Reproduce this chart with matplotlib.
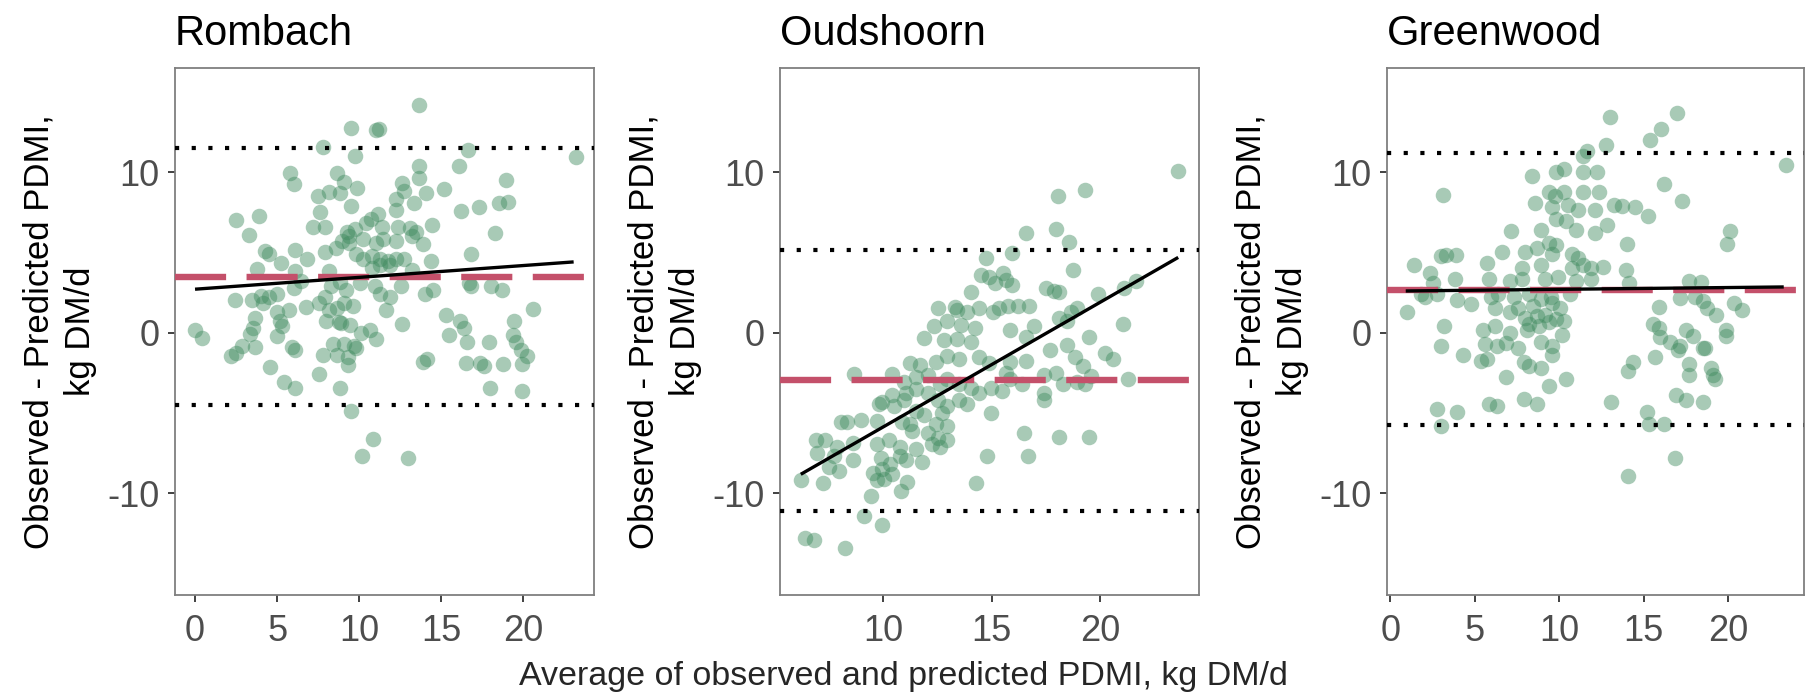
import matplotlib
matplotlib.use("Agg")
import matplotlib.pyplot as plt
import numpy as np

plt.rcParams['font.family'] = ['Liberation Sans', 'DejaVu Sans']

# ---------------- data ----------------
panel_names = ["Rombach", "Oudshoorn", "Greenwood"]

rombach_pts = [
    (13.62, 14.2), (9.53, 12.76), (11.02, 12.59), (11.2, 12.68), (7.80, 11.56), (9.72, 11.0),
    (16.63, 11.36), (23.18, 10.95), (16.08, 10.36), (13.62, 10.36), (5.80, 9.94), (6.02, 9.28),
    (13.62, 9.61), (18.97, 9.53), (8.64, 9.94), (9.05, 9.39), (9.89, 9.0), (15.14, 8.97),
    (12.59, 9.33), (12.71, 8.83), (14.04, 8.72), (7.46, 8.50), (8.18, 8.77), (8.81, 8.72),
    (19.09, 8.16), (18.53, 8.08), (9.51, 7.88), (12.25, 8.33), (13.31, 8.08), (16.20, 7.58),
    (17.28, 7.80), (12.25, 7.66), (7.60, 7.52), (2.48, 6.99), (3.92, 7.24), (3.27, 6.07),
    (10.73, 7.10), (11.14, 7.38), (10.42, 6.82), (7.17, 6.60), (7.94, 6.60), (9.24, 6.27),
    (9.75, 6.43), (11.38, 6.60), (12.37, 6.60), (13.09, 6.49), (13.43, 6.27), (14.42, 6.69),
    (18.29, 6.21), (8.93, 5.71), (9.37, 5.57), (9.36, 5.99), (10.25, 5.85), (11.02, 5.57),
    (11.46, 5.85), (12.23, 5.71), (13.24, 5.99), (13.91, 5.52), (4.24, 5.07), (4.52, 4.87),
    (5.25, 4.32), (6.09, 5.15), (6.81, 4.60), (7.89, 5.01), (8.57, 5.29), (9.82, 4.87),
    (10.23, 4.60), (10.78, 4.74), (11.26, 4.60), (11.74, 4.46), (12.23, 4.60), (12.71, 4.60),
    (16.80, 4.87), (14.39, 4.46), (3.80, 3.98), (6.09, 3.84), (10.78, 4.04), (11.26, 4.18),
    (11.87, 4.18), (8.13, 3.84), (13.19, 3.90), (6.00, 2.79), (6.45, 3.20), (8.26, 2.92),
    (8.81, 3.15), (9.22, 2.65), (10.06, 3.06), (10.97, 2.92), (11.26, 2.37), (11.87, 2.23),
    (12.56, 2.87), (14.03, 2.42), (14.51, 2.65), (16.68, 3.06), (16.80, 2.92), (18.00, 2.92),
    (18.68, 2.65), (2.41, 2.01), (3.44, 2.03), (4.04, 2.28), (4.52, 2.23), (5.01, 2.37),
    (6.76, 1.59), (7.53, 1.81), (7.89, 2.23), (8.13, 1.39), (8.62, 1.53), (9.10, 1.87),
    (9.63, 1.67), (11.62, 1.39), (20.58, 1.48), (4.16, 1.81), (5.01, 1.25), (5.73, 1.39),
    (3.63, 0.92), (5.17, 0.70), (5.29, 0.42), (3.51, 0.28), (3.32, -0.08), (7.97, 0.70),
    (8.74, 0.64), (8.91, 0.61), (9.46, 0.47), (10.11, 0.0), (10.66, 0.14), (11.02, -0.42),
    (12.61, 0.53), (15.31, 1.09), (16.13, 0.70), (16.37, 0.28), (16.56, -0.56), (15.46, -0.14),
    (19.45, 0.70), (19.37, -0.14), (19.56, -0.56), (17.93, -0.58), (0.0, 0.14), (0.43, -0.33),
    (5.01, -0.19), (2.19, -1.45), (2.48, -1.25), (2.89, -0.84), (3.68, -0.92), (5.92, -0.92),
    (6.09, -1.11), (8.38, -0.70), (9.10, -0.70), (9.70, -0.84), (9.82, -0.97), (7.77, -1.39),
    (8.62, -1.39), (9.29, -1.53), (13.86, -1.81), (14.15, -1.67), (16.49, -1.87), (17.33, -1.87),
    (17.63, -2.09), (18.77, -1.95), (19.93, -1.95), (20.24, -1.48), (19.83, -1.06), (4.57, -2.14),
    (9.34, -2.03), (7.53, -2.59), (5.42, -3.06), (6.09, -3.48), (8.86, -3.48), (17.95, -3.48),
    (19.93, -3.62), (9.53, -4.87), (10.83, -6.63), (10.18, -7.66), (12.95, -7.80),
]

oudshoorn_pts = [
    (23.61, 10.08), (19.31, 8.86), (18.04, 8.50), (17.99, 6.46), (16.59, 6.21), (18.58, 5.65),
    (15.95, 4.93), (14.74, 4.65), (18.77, 3.90), (14.50, 3.57), (14.86, 3.48), (15.54, 3.70),
    (15.65, 3.26), (15.14, 3.06), (15.92, 2.98), (17.50, 2.79), (17.86, 2.59), (18.13, 2.51),
    (21.67, 3.20), (21.13, 2.79), (14.05, 2.51), (12.50, 1.53), (13.32, 1.59), (13.41, 1.39),
    (13.87, 1.25), (14.41, 1.53), (15.05, 1.25), (15.32, 1.53), (15.77, 1.67), (16.23, 1.67),
    (16.73, 1.67), (18.95, 1.53), (18.68, 1.25), (19.89, 2.37), (18.13, 0.89), (18.49, 0.70),
    (21.04, 0.56), (12.32, 0.42), (12.96, 0.70), (13.59, 0.47), (14.23, 0.28), (15.86, 0.14),
    (16.95, 0.42), (11.87, -0.36), (12.81, -0.47), (13.41, -0.42), (14.05, -0.56), (16.59, -0.28),
    (19.49, -0.28), (18.49, -0.75), (17.68, -1.11), (20.22, -1.25), (20.58, -1.67), (18.86, -1.53),
    (11.23, -1.87), (11.69, -2.03), (12.41, -1.81), (12.96, -1.48), (13.50, -1.67), (14.41, -1.53),
    (14.86, -1.87), (15.86, -1.81), (16.59, -1.76), (19.22, -2.09), (15.68, -2.51), (15.86, -2.92),
    (16.41, -3.20), (17.41, -2.65), (17.95, -2.51), (18.31, -3.20), (18.95, -3.06), (19.31, -3.20),
    (19.58, -2.70), (21.27, -2.87), (8.66, -2.59), (10.42, -2.59), (10.96, -3.06), (11.51, -2.79),
    (12.05, -2.65), (12.60, -3.20), (12.96, -2.87), (13.50, -3.20), (14.05, -3.48), (14.41, -3.76),
    (14.95, -3.48), (15.50, -3.62), (17.41, -3.76), (17.41, -4.18), (11.05, -3.76), (11.51, -3.54),
    (10.42, -3.90), (10.96, -4.18), (12.05, -3.76), (12.50, -4.18), (13.50, -4.18), (13.87, -4.46),
    (12.96, -4.60), (9.78, -4.46), (9.96, -4.32), (10.51, -4.60), (11.51, -4.87), (11.87, -5.15),
    (12.69, -5.01), (14.95, -5.01), (8.06, -5.57), (8.33, -5.57), (8.97, -5.43), (9.69, -5.49),
    (10.87, -5.57), (11.23, -5.71), (12.41, -5.71), (12.96, -5.85), (11.32, -6.13), (12.05, -6.27),
    (12.50, -6.55), (12.96, -6.69), (16.50, -6.27), (18.13, -6.49), (19.49, -6.49), (6.88, -6.69),
    (7.33, -6.69), (7.88, -7.10), (8.60, -6.88), (9.69, -6.96), (10.24, -6.69), (10.78, -7.10),
    (11.51, -7.24), (12.23, -6.96), (12.60, -7.10), (6.93, -7.52), (7.70, -7.66), (8.60, -7.94),
    (9.91, -7.80), (10.33, -8.22), (10.78, -7.66), (11.05, -7.94), (11.78, -8.08), (14.77, -7.66),
    (16.68, -7.66), (7.51, -8.36), (7.97, -8.64), (9.51, -8.72), (9.96, -8.50), (10.42, -8.83),
    (9.69, -9.19), (10.05, -9.11), (11.11, -9.33), (6.21, -9.19), (7.21, -9.39), (14.26, -9.39),
    (10.83, -9.89), (9.42, -10.17), (9.11, -11.42), (9.96, -11.98), (6.37, -12.81), (6.79, -12.95),
    (8.24, -13.45),
]

greenwood_pts = [
    (16.98, 13.70), (13.03, 13.43), (16.05, 12.67), (15.36, 11.98), (12.80, 11.70), (11.66, 11.28),
    (11.43, 11.0), (23.43, 10.45), (10.29, 10.17), (9.83, 10.03), (11.38, 10.03), (12.23, 10.03),
    (8.39, 9.75), (16.18, 9.28), (3.13, 8.58), (9.37, 8.77), (9.78, 8.50), (10.29, 8.77),
    (11.43, 8.77), (12.34, 8.77), (17.26, 8.22), (8.57, 8.08), (9.60, 7.80), (10.51, 7.94),
    (11.09, 7.66), (12.11, 7.66), (13.26, 7.94), (13.71, 7.88), (14.51, 7.80), (15.27, 7.24),
    (9.83, 7.10), (10.40, 6.96), (12.85, 6.69), (8.91, 6.41), (7.15, 6.32), (12.11, 6.21),
    (10.97, 6.41), (20.11, 6.32), (19.93, 5.49), (13.99, 5.49), (9.37, 5.57), (9.83, 5.43),
    (8.69, 5.29), (6.63, 5.01), (8.0, 5.01), (9.60, 4.87), (10.74, 4.87), (11.09, 4.65),
    (3.02, 4.74), (3.31, 4.82), (3.89, 4.82), (1.37, 4.18), (2.35, 3.70), (2.51, 3.06),
    (1.83, 2.37), (0.98, 1.31), (5.71, 4.32), (7.77, 4.04), (8.91, 4.18), (10.74, 4.04),
    (11.43, 4.18), (11.89, 4.04), (12.57, 4.10), (13.94, 3.90), (14.11, 3.06), (3.84, 3.34),
    (5.83, 3.34), (7.09, 3.20), (7.77, 3.34), (9.14, 3.34), (9.94, 3.48), (11.0, 3.20),
    (11.89, 3.34), (17.71, 3.20), (18.40, 3.15), (2.06, 2.23), (2.74, 2.37), (3.95, 2.03),
    (4.80, 1.75), (5.94, 2.23), (6.40, 2.37), (7.31, 2.23), (8.23, 2.37), (8.91, 2.09),
    (9.49, 2.23), (10.63, 2.37), (17.14, 2.14), (18.06, 2.23), (18.51, 1.95), (20.34, 1.87),
    (20.80, 1.39), (15.89, 1.59), (18.74, 1.53), (6.17, 1.53), (7.54, 1.53), (8.46, 1.67),
    (9.60, 1.81), (10.06, 1.53), (19.31, 1.11), (7.09, 1.25), (8.0, 0.92), (8.69, 1.03),
    (9.14, 1.11), (9.83, 0.84), (10.29, 0.75), (8.23, 0.56), (8.80, 0.42), (9.37, 0.64),
    (15.54, 0.56), (15.89, 0.28), (17.49, 0.14), (19.89, 0.14), (19.89, -0.19), (3.15, 0.42),
    (5.49, 0.14), (6.17, 0.42), (7.09, 0.0), (8.11, 0.14), (10.17, -0.14), (16.0, -0.28),
    (17.94, -0.19), (16.57, -0.56), (2.97, -0.84), (5.60, -0.70), (6.29, -0.84), (6.86, -0.64),
    (7.54, -0.97), (8.91, -0.56), (9.60, -0.84), (17.14, -0.84), (18.51, -0.97), (18.62, -0.97),
    (4.30, -1.39), (17.03, -1.11), (5.37, -1.75), (5.71, -1.67), (15.66, -1.53), (9.60, -1.39),
    (14.40, -1.81), (17.71, -1.95), (7.89, -1.81), (8.23, -2.09), (8.91, -2.23), (14.06, -2.37),
    (18.97, -2.23), (17.71, -2.65), (6.86, -2.79), (10.40, -2.87), (19.20, -2.92), (19.09, -2.65),
    (9.37, -3.34), (16.91, -3.90), (17.49, -4.18), (7.89, -4.12), (8.69, -4.46), (13.07, -4.32),
    (18.51, -4.32), (2.74, -4.74), (3.95, -4.93), (5.83, -4.46), (6.29, -4.60), (15.20, -4.93),
    (15.31, -5.71), (16.18, -5.71), (3.02, -5.85), (16.87, -7.80), (14.06, -8.91),
]

# mean bias (red dashed), limits of agreement (dotted), regression line ends
mean_bias = [3.43, -2.98, 2.65]
loa_upper = [11.48, 5.15, 11.2]
loa_lower = [-4.54, -11.09, -5.77]
reg_x = [[0.0, 23.06], [6.19, 23.61], [0.91, 23.3]]
reg_y = [[2.70, 4.40], [-8.83, 4.68], [2.59, 2.84]]

x_limits = [(-1.22, 24.3), (5.23, 24.57), (-0.2, 24.5)]
x_ticks = [[0, 5, 10, 15, 20], [10, 15, 20], [0, 5, 10, 15, 20]]
y_limits = (-16.35, 16.48)
y_ticks = [-10, 0, 10]

y_label = "Observed - Predicted PDMI,\nkg DM/d"
x_label = "Average of observed and predicted PDMI, kg DM/d"

# ---------------- styling ----------------
point_color = "#3F8A5F"
bias_color = "#C4506A"
frame_color = "#7F7F7F"

W, H = 1806, 699
fig = plt.figure(figsize=(W / 100, H / 100), dpi=100)
fig.patch.set_facecolor("white")

boxes = [(175, 594), (780, 1199), (1387, 1804)]
top_px, bottom_px = 68, 595

all_pts = [rombach_pts, oudshoorn_pts, greenwood_pts]

for i, name in enumerate(panel_names):
    l, r = boxes[i]
    ax = fig.add_axes([l / W, (H - bottom_px) / H, (r - l) / W, (bottom_px - top_px) / H])
    pts = np.array(all_pts[i])
    ax.scatter(pts[:, 0], pts[:, 1], s=125, color=point_color, alpha=0.45,
               linewidths=0, zorder=2)
    ax.axhline(loa_upper[i], color="black", lw=3.0, linestyle=(0, (1, 3)), zorder=3)
    ax.axhline(loa_lower[i], color="black", lw=3.0, linestyle=(0, (1, 3)), zorder=3)
    ax.axhline(mean_bias[i], color=bias_color, lw=4.6, linestyle=(0, (8, 3.2)), zorder=4)
    ax.plot(reg_x[i], reg_y[i], color="black", lw=2.4, zorder=5, solid_capstyle="butt")

    ax.set_xlim(*x_limits[i])
    ax.set_ylim(*y_limits)
    ax.set_xticks(x_ticks[i])
    ax.set_yticks(y_ticks)
    ax.set_xticklabels([str(t) for t in x_ticks[i]])
    ax.set_yticklabels([str(t) for t in y_ticks])

    for sp in ax.spines.values():
        sp.set_color(frame_color)
        sp.set_linewidth(1.3)

    ax.tick_params(axis="both", direction="out", length=5, width=1.3,
                   color="#333333", labelsize=26, labelcolor="#4D4D4D")
    ax.tick_params(axis="x", pad=9)
    ax.tick_params(axis="y", pad=6)

    ax.set_title(name, loc="left", fontsize=30, pad=16.5, color="black")
    ax.set_ylabel(y_label, fontsize=25, color="black", linespacing=1.33)
    ax.yaxis.set_label_coords(-78 / (r - l), 0.5)

fig.text(0.5, (H - 685) / H, x_label, ha="center", va="baseline",
         fontsize=24.5, color="#262626")

fig.savefig("out.png", dpi=100, facecolor="white")
